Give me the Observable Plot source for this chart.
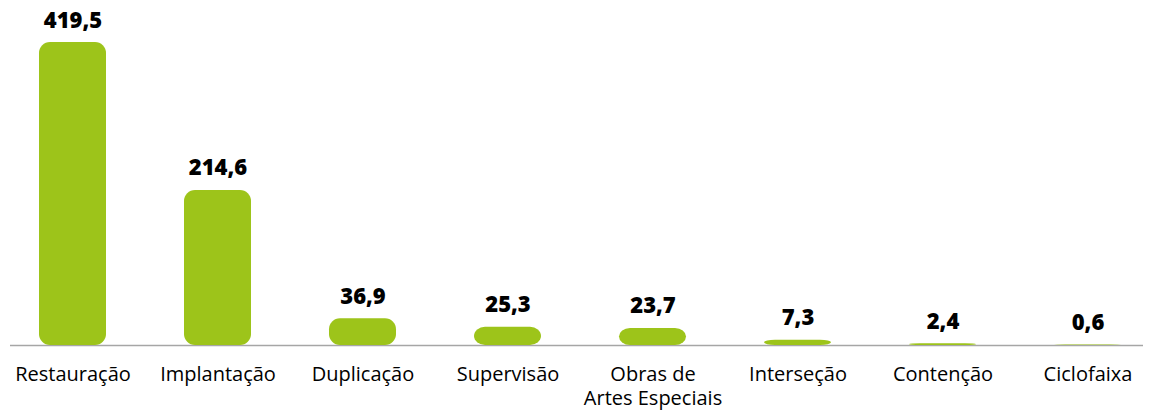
<!DOCTYPE html>
<html><head><meta charset="utf-8">
<script src="https://cdn.jsdelivr.net/npm/d3@7"></script>
<script src="https://cdn.jsdelivr.net/npm/@observablehq/plot@0.6"></script>
<style>body{margin:0;background:#fff}</style>
</head><body><div id="chart"></div>
<script>
const categories = ["Restauração","Implantação","Duplicação","Supervisão","Obras de\nArtes Especiais","Interseção","Contenção","Ciclofaixa"];
const values = [419.5,214.6,36.9,25.3,23.7,7.3,2.4,0.6];
const valueLabels = ["419,5","214,6","36,9","25,3","23,7","7,3","2,4","0,6"];
const data = categories.map((c,i)=>({category:c,value:values[i],label:valueLabels[i]}));
const chart = Plot.plot({
  width:1149, height:412, marginTop:42, marginBottom:67, marginLeft:35, marginRight:25,
  style:{fontFamily:"'Open Sans', sans-serif", background:"#fff", color:"#000"},
  x:{domain:categories, paddingInner:0.54, paddingOuter:0, label:null},
  y:{domain:[0,419.5], axis:null},
  marks:[
    Plot.ruleY([0],{stroke:"#a6a6a6", strokeWidth:1.5, insetLeft:-25, insetRight:-19}),
    Plot.barY(data,{x:"category", y:"value", fill:"#9dc41a", rx:11}),
    Plot.text(data,{x:"category", y:"value", text:"label", lineAnchor:"bottom", dy:-15, fontSize:22, fontWeight:800, fill:"#000"}),
    Plot.axisX({tickSize:0, tickPadding:18, fontSize:20, lineHeight:1.22, label:null, fill:"#000"})
  ]
});
document.getElementById("chart").append(chart);
</script>
</body></html>
